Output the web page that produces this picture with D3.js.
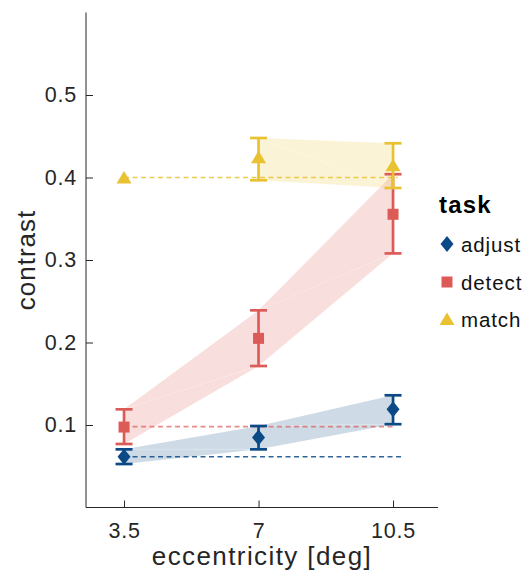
<!DOCTYPE html>
<html>
<head>
<meta charset="utf-8">
<script src="https://cdn.jsdelivr.net/npm/d3@7"></script>
<style>
  html, body { margin: 0; padding: 0; background: #fff; }
  svg { display: block; font-family: "Liberation Sans", Arial, sans-serif; }
</style>
</head>
<body>
<svg id="chart" width="527" height="572"></svg>
<script>
// ---- data ----
const eccentricity = [3.5, 7, 10.5];
const xTicks = [3.5, 7, 10.5];
const xTickLabels = ["3.5", "7", "10.5"];
const yTicks = [0.1, 0.2, 0.3, 0.4, 0.5];
const tasks = ["adjust", "detect", "match"];
const colors = ["#0b4a87", "#dc5b57", "#e9c232"];

const adjustMean = [0.0616, 0.085, 0.119];
const adjustLow  = [0.0527, 0.0705, 0.101];
const adjustHigh = [0.0705, 0.0988, 0.136];

const detectMean = [0.0975, 0.205, 0.3554];
const detectLow  = [0.077, 0.1715, 0.308];
const detectHigh = [0.119, 0.239, 0.404];

const matchMean = [0.4, 0.4245, 0.415];
const matchLow  = [null, 0.3966, 0.3873];
const matchHigh = [null, 0.4479, 0.4415];

// reference (dashed) levels = value at smallest eccentricity
const refLevel = [0.0616, 0.098, 0.4];
const refEnd = [10.75, 10.5, 10.62];

const means = [adjustMean, detectMean, matchMean];
const lows = [adjustLow, detectLow, matchLow];
const highs = [adjustHigh, detectHigh, matchHigh];

// ---- scales ----
const svg = d3.select("#chart");
const x = d3.scaleLinear().domain([2.51, 11.67]).range([86, 438]);
const y = d3.scaleLinear().domain([0, 0.6]).range([507.5, 12.5]);
const axisColor = "#262626";
const FONT = "Liberation Sans, Arial, sans-serif";

// ---- ribbons ----
const gRib = svg.append("g");
tasks.forEach((t, k) => {
  const pts = eccentricity.map((e, i) => ({e, lo: lows[k][i], hi: highs[k][i]}))
    .filter(d => d.lo != null);
  const area = d3.area().x(d => x(d.e)).y0(d => y(d.lo)).y1(d => y(d.hi));
  gRib.append("path").attr("d", area(pts))
    .attr("fill", colors[k]).attr("fill-opacity", 0.2).attr("stroke", "none");
  for (let i = 0; i < pts.length - 1; i++) {
    gRib.append("line")
      .attr("x1", x(pts[i].e)).attr("y1", y(pts[i].hi))
      .attr("x2", x(pts[i + 1].e)).attr("y2", y(pts[i + 1].lo))
      .attr("stroke", "#fff").attr("stroke-opacity", 0.35).attr("stroke-width", 0.8);
  }
});

// ---- dashed reference lines ----
const gRef = svg.append("g");
tasks.forEach((t, k) => {
  gRef.append("line")
    .attr("x1", x(eccentricity[0])).attr("x2", x(refEnd[k]))
    .attr("y1", y(refLevel[k])).attr("y2", y(refLevel[k]))
    .attr("stroke", colors[k]).attr("stroke-opacity", k === 1 ? 0.7 : 0.85)
    .attr("stroke-width", 1.6).attr("stroke-dasharray", "5,3.5");
});

// ---- axes ----
const yAxis = d3.axisLeft(y).tickValues(yTicks).tickFormat(d3.format(".1f"))
  .tickSizeInner(-7).tickSizeOuter(0).tickPadding(9);
const gy = svg.append("g").attr("transform", "translate(86,0)").call(yAxis);
gy.select(".domain").attr("d", `M0,${y(0.6)}V${y(0)}`).attr("stroke", axisColor);
gy.selectAll(".tick line").attr("stroke", axisColor);
gy.selectAll(".tick text").attr("fill", axisColor).attr("font-size", 21.5)
  .attr("font-family", FONT).attr("letter-spacing", 0.8);

const xAxis = d3.axisBottom(x).tickValues(xTicks).tickFormat((d, i) => xTickLabels[i])
  .tickSizeInner(-7).tickSizeOuter(0).tickPadding(0);
const gx = svg.append("g").attr("transform", `translate(0,${y(0)})`).call(xAxis);
gx.select(".domain").attr("d", `M${x.range()[0]},0H${x.range()[1]}`).attr("stroke", axisColor);
gx.selectAll(".tick line").attr("stroke", axisColor);
gx.selectAll(".tick text").attr("fill", axisColor).attr("font-size", 21.5)
  .attr("font-family", FONT).attr("letter-spacing", 0.8)
  .attr("y", 30.5).attr("dy", "0");

svg.append("text").attr("x", (x.range()[0] + x.range()[1]) / 2).attr("y", 565)
  .attr("text-anchor", "middle").attr("font-size", 26).attr("letter-spacing", 1.4)
  .attr("fill", axisColor).text("eccentricity [deg]");
svg.append("text")
  .attr("transform", `translate(35,${(y(0) + y(0.6)) / 2}) rotate(-90)`)
  .attr("text-anchor", "middle").attr("font-size", 26).attr("letter-spacing", 1)
  .attr("fill", axisColor).text("contrast");

// ---- markers ----
function markerPath(k) {
  if (k === 0) return "M0,-8L6.5,0L0,8L-6.5,0Z";
  if (k === 1) return "M-5.5,-5.5H5.5V5.5H-5.5Z";
  return "M0,-6.5L7.5,6L-7.5,6Z";
}

// ---- error bars & points ----
const gPts = svg.append("g");
tasks.forEach((t, k) => {
  const g = gPts.append("g");
  eccentricity.forEach((e, i) => {
    const lo = lows[k][i], hi = highs[k][i];
    if (lo != null) {
      g.append("line").attr("x1", x(e)).attr("x2", x(e))
        .attr("y1", y(lo)).attr("y2", y(hi))
        .attr("stroke", colors[k]).attr("stroke-width", 2.7);
      [lo, hi].forEach(v => {
        g.append("line").attr("x1", x(e) - 8.5).attr("x2", x(e) + 8.5)
          .attr("y1", y(v)).attr("y2", y(v))
          .attr("stroke", colors[k]).attr("stroke-width", 2.7);
      });
    }
    g.append("path").attr("d", markerPath(k))
      .attr("transform", `translate(${x(e)},${y(means[k][i])})`)
      .attr("fill", colors[k]);
  });
});

// ---- legend ----
const gLeg = svg.append("g");
gLeg.append("text").attr("x", 439).attr("y", 213).attr("font-size", 24)
  .attr("font-weight", "bold").attr("letter-spacing", 1.2).attr("fill", "#000").text("task");
const legY = [244, 282, 319];
tasks.forEach((t, k) => {
  gLeg.append("path").attr("d", markerPath(k))
    .attr("transform", `translate(447,${legY[k]})`).attr("fill", colors[k]);
  gLeg.append("text").attr("x", 461).attr("y", legY[k] + 7.5).attr("font-size", 20.5)
    .attr("letter-spacing", 0.9).attr("fill", "#111").text(t);
});
</script>
</body>
</html>
